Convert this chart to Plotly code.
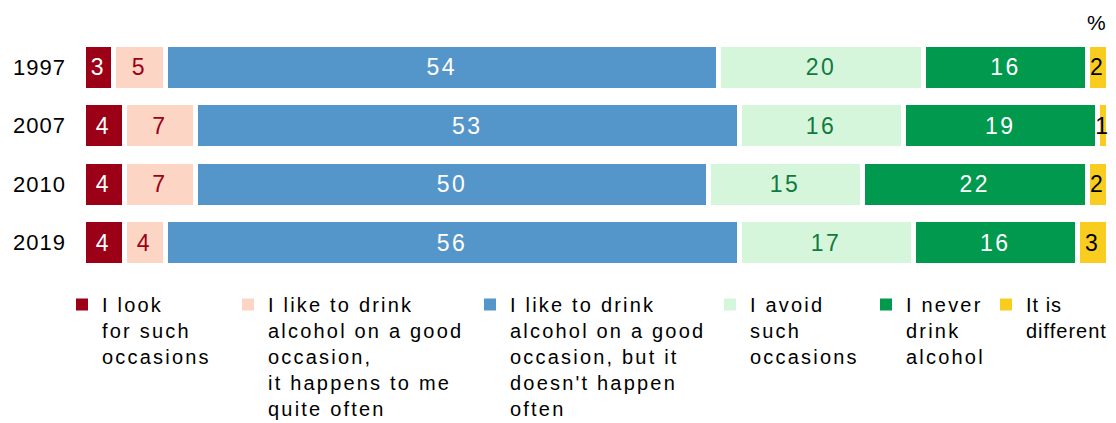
import plotly.graph_objects as go

# ---------------- data ----------------
years = ["1997", "2007", "2010", "2019"]
look_for = [3, 4, 4, 4]
like_often = [5, 7, 7, 4]
like_rarely = [54, 53, 50, 56]
avoid = [20, 16, 15, 17]
never = [16, 19, 22, 16]
different = [2, 1, 2, 3]

series_values = [look_for, like_often, like_rarely, avoid, never, different]
legend_labels = [
    ["I look", "for such", "occasions"],
    ["I like to drink", "alcohol on a good", "occasion,", "it happens to me", "quite often"],
    ["I like to drink", "alcohol on a good", "occasion, but it", "doesn't happen", "often"],
    ["I avoid", "such", "occasions"],
    ["I never", "drink", "alcohol"],
    ["It is", "different"],
]

# ---------------- style ----------------
bar_colors = ["#9B0016", "#FDD5C5", "#5596CA", "#D5F6DB", "#00994D", "#F9CD1F"]
text_colors = ["#FFFFFF", "#9B0016", "#FFFFFF", "#137A3F", "#FFFFFF", "#000000"]
FONT = "Liberation Sans, Arial, sans-serif"

# layout geometry (pixels)
M_L, M_R, M_T, M_B = 83, 8, 38, 151
W, H = 1116, 423
PW, PH = W - M_L - M_R, H - M_T - M_B
legend_left_px = [62, 228, 470, 710, 866, 986]
legend_spacing = [2.2, 2.2, 2.2, 2.2, 2.2, 1.0]
legend_top_px = 285


def spaced(s, ls):
    return f'<span style="letter-spacing:{ls}px">{s}</span>'


fig = go.Figure()

for vals, col, tcol in zip(series_values, bar_colors, text_colors):
    fig.add_trace(go.Bar(
        y=years, x=vals, orientation="h",
        marker=dict(color=col, line=dict(color="white", width=5)),
        text=[spaced(str(v), 2.5) for v in vals],
        texttemplate="%{text}",
        textposition="inside", insidetextanchor="middle",
        constraintext="none", textangle=0,
        textfont=dict(family=FONT, size=23, color=tcol),
        showlegend=False, hoverinfo="skip",
    ))

# legend entries (plain squares), one legend box per entry
legend_layouts = {}
for i, (name_lines, col) in enumerate(zip(legend_labels, bar_colors)):
    key = "legend" if i == 0 else f"legend{i + 1}"
    name = "<br>".join(spaced(l, legend_spacing[i]) for l in name_lines)
    fig.add_trace(go.Bar(
        y=[None], x=[None], orientation="h", name=name,
        marker=dict(color=col, line=dict(width=0)),
        showlegend=True, hoverinfo="skip", legend=key,
    ))
    legend_layouts[key] = dict(
        orientation="h",
        x=(legend_left_px[i] - M_L) / PW, xanchor="left",
        y=-(legend_top_px - (M_T + PH)) / PH, yanchor="top",
        font=dict(family=FONT, size=20, color="#000000"),
        valign="top", itemclick=False, itemdoubleclick=False,
        bgcolor="rgba(0,0,0,0)", borderwidth=0,
    )

fig.add_annotation(
    text="%", xref="paper", yref="paper", x=1.0, y=1.0,
    xanchor="right", yanchor="bottom", showarrow=False,
    font=dict(family=FONT, size=21, color="#000000"), yshift=2,
)

fig.update_layout(
    width=W, height=H,
    margin=dict(l=M_L, r=M_R, t=M_T, b=M_B, pad=0, autoexpand=False),
    paper_bgcolor="white", plot_bgcolor="white",
    barmode="stack", bargap=0.22,
    font=dict(family=FONT, color="#000000"),
    xaxis=dict(range=[0, 100], visible=False, fixedrange=True),
    yaxis=dict(
        autorange="reversed", showgrid=False, zeroline=False, showline=False,
        tickvals=years, ticktext=[spaced(y, 1) for y in years],
        tickfont=dict(family=FONT, size=22, color="#000000"),
        ticks="", ticklabelstandoff=16, fixedrange=True,
    ),
    **legend_layouts,
)

fig.write_html("out.html")
